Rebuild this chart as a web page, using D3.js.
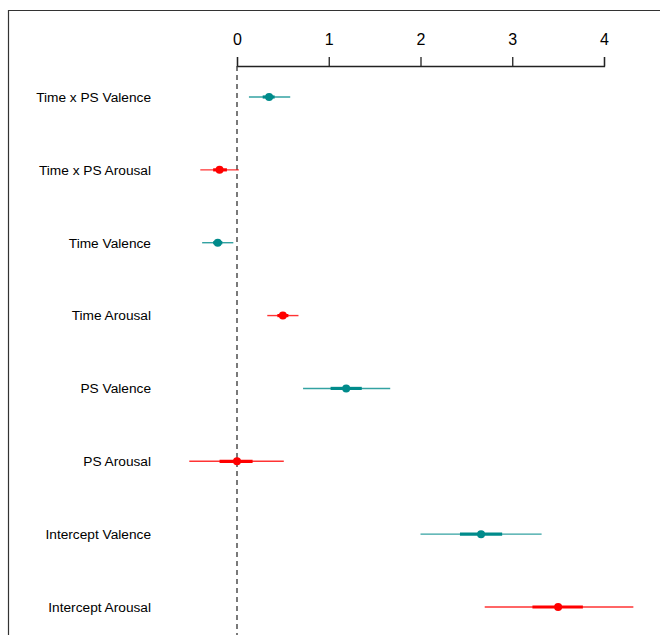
<!DOCTYPE html>
<html>
<head>
<meta charset="utf-8">
<script src="https://cdn.jsdelivr.net/npm/d3@7"></script>
<style>
  body { margin: 0; background: #fff; }
  text { font-family: "Liberation Sans", Arial, sans-serif; }
</style>
</head>
<body>
<script>
'use strict';

// coefficient estimates
const terms = ["Time x PS Valence", "Time x PS Arousal", "Time Valence", "Time Arousal",
    "PS Valence", "PS Arousal", "Intercept Valence", "Intercept Arousal"];
const groups = ["Valence", "Arousal", "Valence", "Arousal", "Valence", "Arousal", "Valence", "Arousal"];
const estimates = [0.35, -0.19, -0.21, 0.50, 1.19, 0.00, 2.66, 3.50];
const innerLow = [0.28, -0.26, -0.26, 0.44, 1.02, -0.19, 2.43, 3.22];
const innerHigh = [0.41, -0.11, -0.16, 0.56, 1.36, 0.17, 2.89, 3.77];
const outerLow = [0.13, -0.40, -0.38, 0.33, 0.72, -0.52, 2.00, 2.70];
const outerHigh = [0.58, 0.02, -0.04, 0.67, 1.67, 0.51, 3.32, 4.32];
const xTicks = [0, 1, 2, 3, 4];

const width = 660, height = 635;
const colors = { Valence: "#008b8b", Arousal: "#ff0000" };

const rows = terms.map((t, i) => ({
    term: t, group: groups[i], est: estimates[i],
    lo50: innerLow[i], hi50: innerHigh[i], lo95: outerLow[i], hi95: outerHigh[i]
}));

const svg = d3.select("body").append("svg")
    .attr("width", width)
    .attr("height", height);

// frame of the original figure, cut off on the right and at the bottom
svg.append("path")
    .attr("d", "M8.5," + height + "V10.5H" + width)
    .attr("fill", "none")
    .attr("stroke", "#333")
    .attr("stroke-width", 1.2);

let x = d3.scaleLinear().domain([0, 4]).range([237, 604]);
let y = d3.scalePoint().domain(terms).range([97, 607]);

// top axis
let axis = svg.append("g")
    .attr("transform", "translate(0,66)")
    .call(d3.axisTop(x).tickValues(xTicks).tickSize(9).tickPadding(12).tickFormat(d3.format("d")));
axis.select(".domain").attr("stroke", "#222").attr("stroke-width", 1.3);
axis.selectAll(".tick line").attr("stroke", "#222").attr("stroke-width", 1.3);
axis.selectAll(".tick text")
    .attr("fill", "#000")
    .style("font-size", "16px")
    .style("font-family", "'Liberation Sans', Arial, sans-serif");

// zero reference line
svg.append("line")
    .attr("x1", x(0)).attr("x2", x(0))
    .attr("y1", 66).attr("y2", height)
    .attr("stroke", "#333")
    .attr("stroke-width", 1.3)
    .attr("stroke-dasharray", "5,4");

// row labels
svg.selectAll("text.term")
    .data(rows)
    .enter().append("text")
    .attr("class", "term")
    .attr("x", 151)
    .attr("y", d => y(d.term))
    .attr("dy", "0.35em")
    .attr("text-anchor", "end")
    .style("font-size", "13.7px")
    .attr("fill", "#000")
    .text(d => d.term);

let marks = svg.selectAll("g.coef")
    .data(rows)
    .enter().append("g")
    .attr("class", "coef");

marks.append("line")
    .attr("x1", d => x(d.lo95)).attr("x2", d => x(d.hi95))
    .attr("y1", d => y(d.term)).attr("y2", d => y(d.term))
    .attr("stroke", d => colors[d.group])
    .attr("stroke-opacity", 0.8)
    .attr("stroke-width", 1.4);

marks.append("line")
    .attr("x1", d => x(d.lo50)).attr("x2", d => x(d.hi50))
    .attr("y1", d => y(d.term)).attr("y2", d => y(d.term))
    .attr("stroke", d => colors[d.group])
    .attr("stroke-width", 3.2);

marks.append("circle")
    .attr("cx", d => x(d.est))
    .attr("cy", d => y(d.term))
    .attr("r", 4)
    .attr("fill", d => colors[d.group]);
</script>
</body>
</html>
